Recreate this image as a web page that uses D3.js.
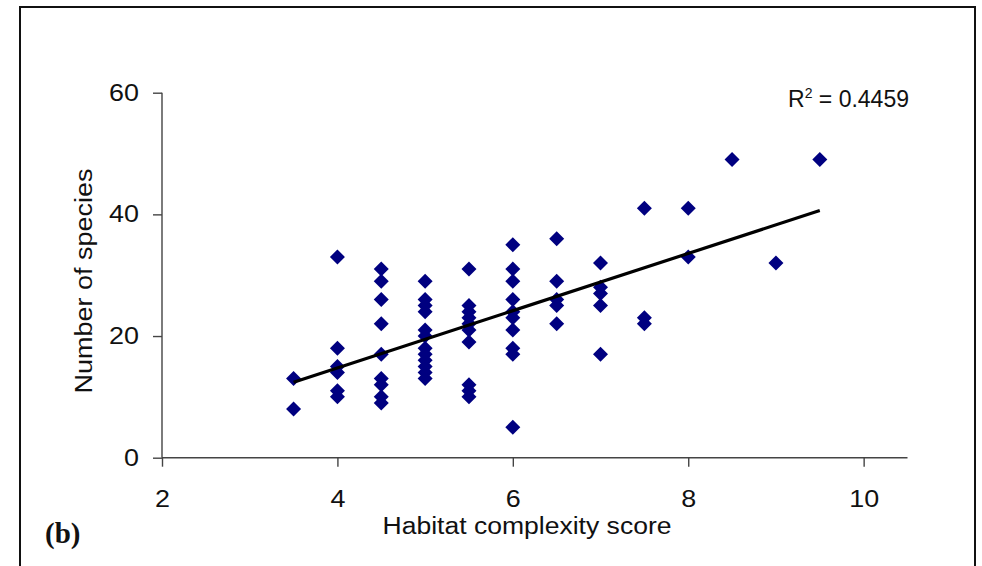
<!DOCTYPE html>
<html>
<head>
<meta charset="utf-8">
<script src="https://cdn.jsdelivr.net/npm/d3@7"></script>
<style>
  body { margin: 0; background: #fff; }
  text { font-family: "Liberation Sans", Arial, sans-serif; }
</style>
</head>
<body>
<script>
// data: habitat complexity score vs number of species
const scores = [
  3.5, 3.5,
  4, 4, 4, 4, 4, 4,
  4.5, 4.5, 4.5, 4.5, 4.5, 4.5, 4.5, 4.5, 4.5,
  5, 5, 5, 5, 5, 5, 5, 5, 5, 5, 5, 5,
  5.5, 5.5, 5.5, 5.5, 5.5, 5.5, 5.5, 5.5, 5.5, 5.5,
  6, 6, 6, 6, 6, 6, 6, 6, 6, 6,
  6.5, 6.5, 6.5, 6.5, 6.5,
  7, 7, 7, 7, 7,
  7.5, 7.5, 7.5,
  8, 8,
  8.5, 9, 9.5
]
const species = [
  13, 8,
  33, 18, 15, 14, 11, 10,
  31, 29, 26, 22, 17, 13, 12, 10, 9,
  29, 26, 25, 24, 21, 20, 18, 17, 16, 15, 14, 13,
  31, 25, 24, 23, 22, 21, 19, 12, 11, 10,
  35, 31, 29, 26, 24, 23, 21, 18, 17, 5,
  36, 29, 26, 25, 22,
  32, 28, 27, 25, 17,
  41, 23, 22,
  41, 33,
  49, 32, 49
]
const xTicks = [2, 4, 6, 8, 10]
const yTicks = [0, 20, 40, 60]
const r2Label = "0.4459"

const w = 982
const h = 566
const stretch = 1.17 // the original text is a bit wider than plain Arial

const svg = d3.select("body")
  .append("svg")
  .attr("width", w)
  .attr("height", h)
  .style("background-color", "#fff")

// outer frame (bottom edge falls off the picture)
svg.append("rect")
  .attr("x", 20)
  .attr("y", 7)
  .attr("width", 955)
  .attr("height", 600)
  .attr("fill", "none")
  .attr("stroke", "#111")
  .attr("stroke-width", 2)

const xScale = d3.scaleLinear()
  .domain([2, 10.5])
  .range([162, 907.5])

const yScale = d3.scaleLinear()
  .domain([0, 60])
  .range([457.7, 92.7])

//axes
const xAxis = d3.axisBottom(xScale).tickValues(xTicks).tickSize(9).tickPadding(24).tickFormat(d3.format("d"))
const gx = svg.append("g")
  .attr("transform", "translate(0," + yScale(0) + ")")
  .call(xAxis)

const yAxis = d3.axisLeft(yScale).tickValues(yTicks).tickSize(9).tickPadding(14).tickFormat(d3.format("d"))
const gy = svg.append("g")
  .attr("transform", "translate(" + xScale(2) + ",0)")
  .call(yAxis)

for (const g of [gx, gy]) {
  g.select(".domain").attr("stroke", "#444").attr("stroke-width", 1.4)
  g.selectAll(".tick line").attr("stroke", "#444").attr("stroke-width", 1.4)
  g.selectAll(".tick text")
    .attr("fill", "#111")
    .style("font-size", "23px")
    .style("font-family", '"Liberation Sans", Arial, sans-serif')
    .each(function () {
      d3.select(this)
        .attr("textLength", this.getComputedTextLength() * stretch)
        .attr("lengthAdjust", "spacingAndGlyphs")
    })
}
// outer tick ends of the domain are not drawn in the original
gx.select(".domain").attr("d", "M" + xScale(2) + ",0H" + xScale(10.5))
gy.select(".domain").attr("d", "M0," + yScale(60) + "V" + yScale(0))

//points
const pts = scores.map((s, i) => [s, species[i]])
svg.append("g")
  .selectAll("path")
  .data(pts)
  .enter()
  .append("path")
  .attr("d", "M0,-7.5L7.5,0L0,7.5L-7.5,0Z")
  .attr("transform", d => "translate(" + xScale(d[0]) + "," + yScale(d[1]) + ")")
  .attr("fill", "#000080")

//least squares trend line
const mx = d3.mean(scores)
const my = d3.mean(species)
const sxy = d3.sum(pts, d => (d[0] - mx) * (d[1] - my))
const sxx = d3.sum(scores, s => (s - mx) * (s - mx))
const slope = sxy / sxx
const icpt = my - slope * mx
const ends = d3.extent(scores)
svg.append("line")
  .attr("x1", xScale(ends[0]))
  .attr("y1", yScale(icpt + slope * ends[0]))
  .attr("x2", xScale(ends[1]))
  .attr("y2", yScale(icpt + slope * ends[1]))
  .attr("stroke", "#000")
  .attr("stroke-width", 3.2)

//labels
const r2 = svg.append("text")
  .attr("x", 788)
  .attr("y", 107)
  .style("font-size", "23px")
  .attr("fill", "#111")
  .attr("textLength", 121)
  .attr("lengthAdjust", "spacingAndGlyphs")
r2.append("tspan").text("R")
r2.append("tspan").attr("dy", -9).style("font-size", "14px").text("2")
r2.append("tspan").attr("dy", 9).text(" = " + r2Label)

svg.append("text")
  .attr("x", 527)
  .attr("y", 534)
  .attr("text-anchor", "middle")
  .style("font-size", "23.5px")
  .attr("fill", "#111")
  .attr("textLength", 289)
  .attr("lengthAdjust", "spacingAndGlyphs")
  .text("Habitat complexity score")

svg.append("text")
  .attr("transform", "translate(92,281) rotate(-90)")
  .attr("text-anchor", "middle")
  .style("font-size", "23.5px")
  .attr("fill", "#111")
  .attr("textLength", 225)
  .attr("lengthAdjust", "spacingAndGlyphs")
  .text("Number of species")

svg.append("text")
  .attr("x", 45)
  .attr("y", 543)
  .style("font-family", '"Liberation Serif", "Times New Roman", serif')
  .style("font-size", "29px")
  .style("font-weight", "bold")
  .attr("fill", "#111")
  .text("(b)")
</script>
</body>
</html>
